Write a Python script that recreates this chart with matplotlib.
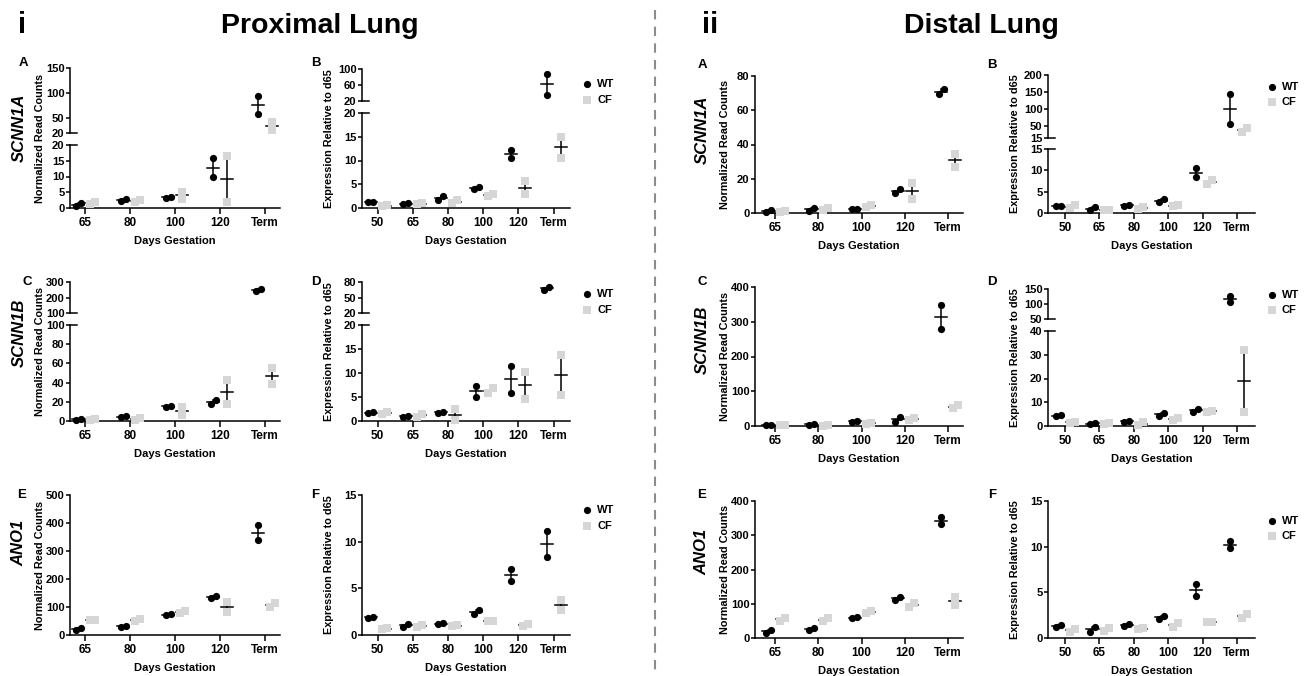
import numpy as np
import matplotlib
matplotlib.use('Agg')
import matplotlib.pyplot as plt
from matplotlib.lines import Line2D

plt.rcParams['font.family'] = ['Liberation Sans', 'DejaVu Sans']
plt.rcParams['font.weight'] = 'bold'

W, H = 1314, 676
fig = plt.figure(figsize=(W / 100, H / 100), dpi=100)

# ---------------- data ----------------
cats_rna = ['65', '80', '100', '120', 'Term']
cats_qpcr = ['50', '65', '80', '100', '120', 'Term']

# Proximal lung
prox_A_wt = [[0.7, 1.5], [2.2, 2.8], [3.3, 3.5], [9.9, 15.8], [58, 94]]
prox_A_cf = [[1.4, 2.0], [1.8, 2.5], [2.8, 5.2], [1.8, 16.6], [26, 42]]
prox_B_wt = [[1.2, 1.25], [0.85, 1.0], [1.7, 2.5], [4.0, 4.5], [10.5, 12.2], [35, 88]]
prox_B_cf = [[0.5, 0.55], [0.9, 0.95], [1.0, 1.6], [2.6, 3.0], [3.0, 5.6], [10.5, 15]]
prox_C_wt = [[1.5, 2.5], [3.9, 5.2], [14.9, 15.6], [17.4, 21.9], [243, 252]]
prox_C_cf = [[1.5, 2.2], [1.0, 3.4], [6.2, 14.9], [17.7, 42.7], [38.5, 54.9]]
prox_D_wt = [[1.7, 1.8], [0.9, 1.0], [1.75, 1.8], [5.0, 7.3], [5.8, 11.5], [65, 70]]
prox_D_cf = [[1.45, 1.95], [0.8, 1.5], [0.3, 2.4], [5.8, 6.9], [4.6, 10.2], [5.4, 13.8]]
prox_E_wt = [[18, 24], [30, 32], [72, 74], [133, 140], [339, 393]]
prox_E_cf = [[52, 55], [51, 56], [80, 85], [81, 117], [101, 113]]
prox_F_wt = [[1.8, 1.96], [0.9, 1.18], [1.15, 1.25], [2.3, 2.7], [5.8, 7.1], [8.4, 11.1]]
prox_F_cf = [[0.6, 0.7], [0.9, 1.1], [0.95, 1.05], [1.45, 1.5], [1.0, 1.2], [2.7, 3.75]]

# Distal lung
dist_A_wt = [[0.8, 1.75], [1.4, 2.7], [2.3, 2.4], [11.5, 13.8], [69.3, 72.3]]
dist_A_cf = [[0.4, 1.4], [1.7, 2.7], [3.7, 4.7], [8.0, 17.7], [27, 34.5]]
dist_B_wt = [[1.55, 1.6], [0.7, 1.3], [1.7, 1.9], [2.5, 3.3], [8.4, 10.5], [55, 145]]
dist_B_cf = [[1.1, 1.9], [0.7, 0.8], [1.0, 1.4], [1.6, 1.9], [6.8, 7.7], [33, 45]]
dist_C_wt = [[2, 4], [4, 6], [10.6, 15.3], [12.5, 26.9], [278, 348]]
dist_C_cf = [[2, 3], [1, 2], [6, 9], [17, 24], [51, 60]]
dist_D_wt = [[4.3, 4.5], [0.9, 1.1], [1.8, 2.2], [4.3, 5.5], [5.9, 7.2], [107, 127]]
dist_D_cf = [[1.4, 1.7], [0.9, 1.3], [0.6, 1.5], [2.5, 3.4], [5.9, 6.4], [6, 32]]
dist_E_wt = [[15.6, 23.4], [23.4, 28.2], [57.4, 60.4], [111, 120.6], [333, 352]]
dist_E_cf = [[49.6, 59.4], [50.5, 57.4], [74, 80], [91.4, 101], [96.4, 120.6]]
dist_F_wt = [[1.24, 1.42], [0.69, 1.24], [1.3, 1.5], [2.1, 2.4], [4.6, 5.9], [9.8, 10.6]]
dist_F_cf = [[0.69, 0.99], [0.8, 1.1], [0.95, 1.05], [1.2, 1.6], [1.7, 1.75], [2.2, 2.6]]

WT_COLOR = 'black'
CF_COLOR = '#d6d6d6'
WT_MS = 5.2
CF_MS = 5.6


def fx(x):
    return x / W


def fy(y):
    return 1 - y / H


def ftext(x, y, s, **kw):
    fig.text(fx(x), fy(y), s, **kw)


def draw_panel(x0, x1, t0, sp, segs, cats, wt, cf):
    xlim = ((x0 - t0) / sp, (x1 - t0) / sp)
    dodge = 7.0 / sp
    hw = 6.0 / sp
    jit = 2.5 / sp
    n = len(segs)
    for i, (ytop, ybot, lo, hi, ticks) in enumerate(segs):
        ax = fig.add_axes([fx(x0), fy(ybot), (x1 - x0) / W, (ybot - ytop) / H])
        ax.set_xlim(*xlim)
        ax.set_ylim(lo, hi)
        ax.patch.set_visible(False)
        for s in ['top', 'right']:
            ax.spines[s].set_visible(False)
        for s in ['left', 'bottom']:
            ax.spines[s].set_linewidth(1.1)
        pxu = (ybot - ytop) / (hi - lo)
        if i < n - 1:
            ax.spines['bottom'].set_visible(False)
            ax.set_xticks([])
        else:
            ax.set_xticks(range(len(cats)))
            ax.set_xticklabels(cats, fontsize=8.5, fontweight='bold')
        ax.set_yticks(ticks)
        ax.set_yticklabels([str(t) for t in ticks], fontsize=8, fontweight='bold')
        ax.tick_params(axis='y', length=3, width=1.1, pad=1)
        ax.tick_params(axis='x', length=4, width=1.1, pad=2.5)
        for vals, off, col, mk, ms in [(wt, -dodge, WT_COLOR, 'o', WT_MS),
                                       (cf, dodge, CF_COLOR, 's', CF_MS)]:
            for k, pair in enumerate(vals):
                pair = sorted(pair)
                m = np.mean(pair)
                sem = np.std(pair, ddof=1) / np.sqrt(len(pair))
                xc = k + off
                ax.plot([xc, xc], [m - sem, m + sem], color='black', lw=1.1,
                        zorder=2, clip_on=True)
                ax.plot([xc - hw, xc + hw], [m, m], color='black', lw=1.1,
                        zorder=2, clip_on=True)
                diff_px = abs(pair[1] - pair[0]) * pxu
                dx = jit if diff_px < 6 else 0.0
                for j, v in enumerate(pair):
                    if lo - 1e-9 <= v <= hi + 1e-9:
                        ax.plot([xc + (-dx if j == 0 else dx)], [v], marker=mk,
                                color=col, ms=ms, ls='none', zorder=3,
                                clip_on=False, markeredgewidth=0)
        if n > 1:
            yy = ybot if i == 0 else ytop
            fig.add_artist(Line2D([fx(x0), fx(x0 + 7)], [fy(yy), fy(yy)],
                                  color='black', lw=1.1))


def legend(x, y1, y2):
    fig.add_artist(Line2D([fx(x)], [fy(y1)], marker='o', color=WT_COLOR, ms=WT_MS,
                          ls='none', markeredgewidth=0))
    fig.add_artist(Line2D([fx(x)], [fy(y2)], marker='s', color=CF_COLOR, ms=CF_MS,
                          ls='none', markeredgewidth=0))
    ftext(x + 10, y1, 'WT', fontsize=8, fontweight='bold', va='center')
    ftext(x + 10, y2, 'CF', fontsize=8, fontweight='bold', va='center')


# ---------------- layout ----------------
PA = (70, 280, 85, 45.0)
PB = (362, 570, 377.5, 35.2)
DA = (755, 963, 775, 43.3)
DB = (1048, 1255, 1065, 34.4)

panels = [
    (PA, [(68, 133, 20, 150, [20, 50, 100, 150]), (145, 208, 0, 20, [0, 5, 10, 15, 20])],
     cats_rna, prox_A_wt, prox_A_cf),
    (PB, [(69, 101, 20, 100, [20, 60, 100]), (113, 208, 0, 20, [0, 5, 10, 15, 20])],
     cats_qpcr, prox_B_wt, prox_B_cf),
    (PA, [(282, 313, 100, 300, [100, 200, 300]), (325, 421, 0, 100, [0, 20, 40, 60, 80, 100])],
     cats_rna, prox_C_wt, prox_C_cf),
    (PB, [(282, 313, 20, 80, [20, 50, 80]), (325, 421, 0, 20, [0, 5, 10, 15, 20])],
     cats_qpcr, prox_D_wt, prox_D_cf),
    (PA, [(495, 635, 0, 500, [0, 100, 200, 300, 400, 500])], cats_rna, prox_E_wt, prox_E_cf),
    (PB, [(495, 635, 0, 15, [0, 5, 10, 15])], cats_qpcr, prox_F_wt, prox_F_cf),
    (DA, [(76, 213, 0, 80, [0, 20, 40, 60, 80])], cats_rna, dist_A_wt, dist_A_cf),
    (DB, [(75, 138, 15, 200, [15, 50, 100, 150, 200]), (149, 213, 0, 15, [0, 5, 10, 15])],
     cats_qpcr, dist_B_wt, dist_B_cf),
    (DA, [(287, 426, 0, 400, [0, 100, 200, 300, 400])], cats_rna, dist_C_wt, dist_C_cf),
    (DB, [(289, 319, 50, 150, [50, 100, 150]), (331, 426, 0, 40, [0, 10, 20, 30, 40])],
     cats_qpcr, dist_D_wt, dist_D_cf),
    (DA, [(501, 638, 0, 400, [0, 100, 200, 300, 400])], cats_rna, dist_E_wt, dist_E_cf),
    (DB, [(501, 638, 0, 15, [0, 5, 10, 15])], cats_qpcr, dist_F_wt, dist_F_cf),
]

for (geom, segs, cats, wt, cf) in panels:
    x0, x1, t0, sp = geom
    draw_panel(x0, x1, t0, sp, segs, cats, wt, cf)
    ytop = segs[0][0]
    ybot = segs[-1][1]
    ftext((x0 + x1) / 2, ybot + 33, 'Days Gestation', fontsize=8, fontweight='bold',
          ha='center', va='center')
    ylab = 'Normalized Read Counts' if cats is cats_rna else 'Expression Relative to d65'
    yl_x = x0 - 30 if cats is cats_rna else x0 - 33
    ftext(yl_x, (ytop + ybot) / 2, ylab, fontsize=7.8, fontweight='bold', rotation=90,
          ha='center', va='center')

letters = [('A', 23, 66), ('B', 316, 66), ('C', 27, 285), ('D', 316, 285),
           ('E', 22, 498), ('F', 315, 498),
           ('A', 702, 68), ('B', 992, 68), ('C', 702, 285), ('D', 992, 285),
           ('E', 702, 498), ('F', 992, 498)]
for s, x, y in letters:
    ftext(x, y, s, fontsize=9.5, fontweight='bold', ha='center', va='baseline')

genes = [('SCNN1A', 19, 128), ('SCNN1B', 19, 333), ('ANO1', 19, 543),
         ('SCNN1A', 702, 130), ('SCNN1B', 702, 340), ('ANO1', 702, 552)]
for s, x, y in genes:
    ftext(x, y, s, fontsize=12, fontweight='bold', fontstyle='italic', rotation=90,
          ha='center', va='center')

for y1 in [84, 294, 510]:
    legend(587, y1, y1 + 16)
for y1 in [87, 295, 521]:
    legend(1272, y1, y1 + 15)

ftext(22, 33, 'i', fontsize=21, fontweight='bold', ha='center', va='baseline')
ftext(320, 33, 'Proximal Lung', fontsize=20.5, fontweight='bold', ha='center', va='baseline')
ftext(710, 33, 'ii', fontsize=21, fontweight='bold', ha='center', va='baseline')
ftext(981, 33, 'Distal Lung', fontsize=20.5, fontweight='bold', ha='center', va='baseline')

fig.add_artist(Line2D([fx(655), fx(655)], [fy(10), fy(672)], color='#8c8c8c', lw=1.5,
                      ls=(0, (4.5, 3.5))))

fig.savefig('out.png', dpi=100, facecolor='white')
